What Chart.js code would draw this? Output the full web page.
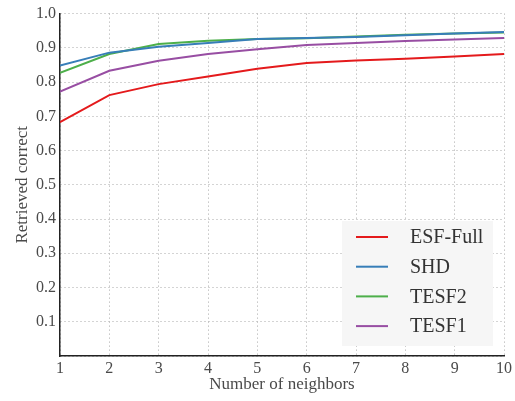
<!DOCTYPE html>
<html>
<head>
<meta charset="utf-8">
<script src="https://cdn.jsdelivr.net/npm/chart.js@4/dist/chart.umd.min.js"></script>
<style>
    html, body { margin: 0; padding: 0; background: #fff; }
    #wrap { width: 515px; height: 401px; }
</style>
</head>
<body>
<div id="wrap"><canvas id="retrievalChart" width="515" height="401"></canvas></div>
<script>
(function(){
    "use strict";

    // Number of neighbors (x axis)
    const neighbors = [1, 2, 3, 4, 5, 6, 7, 8, 9, 10];

    // Retrieved correct, one list per method
    const esfFull = [0.683, 0.762, 0.794, 0.816, 0.839, 0.856, 0.863, 0.868, 0.875, 0.882];
    const shd     = [0.848, 0.886, 0.903, 0.914, 0.926, 0.929, 0.932, 0.937, 0.942, 0.946];
    const tesf2   = [0.827, 0.882, 0.911, 0.921, 0.926, 0.928, 0.933, 0.938, 0.942, 0.945];
    const tesf1   = [0.772, 0.833, 0.862, 0.882, 0.896, 0.908, 0.914, 0.920, 0.924, 0.929];

    const seriesNames = ['ESF-Full', 'SHD', 'TESF2', 'TESF1'];
    const seriesColors = ['#e41a1c', '#377eb8', '#4daf4a', '#984ea3'];

    const fontFamily = '"Liberation Serif", "DejaVu Serif", serif';
    const textColor = '#4a4a4a';

    function toPoints(values) {
        return values.map((v, i) => ({ x: neighbors[i], y: v }));
    }

    /**
     * Legend box drawn inside the plot, bottom right, like the matplotlib one
    */
    const boxLegend = {
        id: 'boxLegend',
        afterDatasetsDraw(chart) {
            const ctx = chart.ctx;
            const area = chart.chartArea;
            const w = 151, h = 125;
            const x0 = area.right - 11 - w;
            const y0 = area.bottom - 10 - h;
            ctx.save();
            ctx.fillStyle = '#f6f6f6';
            ctx.fillRect(x0, y0, w, h);
            ctx.font = '20px ' + fontFamily;
            ctx.textBaseline = 'middle';
            chart.data.datasets.forEach((ds, i) => {
                const y = y0 + 16 + i * 29.7;
                ctx.strokeStyle = ds.borderColor;
                ctx.lineWidth = 2;
                ctx.beginPath();
                ctx.moveTo(x0 + 14, y);
                ctx.lineTo(x0 + 46, y);
                ctx.stroke();
                ctx.fillStyle = '#333';
                ctx.fillText(ds.label, x0 + 68, y + 1);
            });
            ctx.restore();
        }
    };

    function createChart() {
        const ctx = document.getElementById('retrievalChart').getContext('2d');
        const allSeries = [esfFull, shd, tesf2, tesf1];

        new Chart(ctx, {
            type: 'line',
            data: {
                datasets: allSeries.map((values, i) => ({
                    label: seriesNames[i],
                    data: toPoints(values),
                    borderColor: seriesColors[i],
                    backgroundColor: seriesColors[i],
                    borderWidth: 2,
                    pointRadius: 0,
                    tension: 0,
                    fill: false
                }))
            },
            options: {
                responsive: false,
                animation: false,
                layout: { padding: { top: 13, right: 10, left: 0, bottom: 0 } },
                plugins: {
                    legend: { display: false },
                    tooltip: { enabled: false }
                },
                scales: {
                    x: {
                        type: 'linear',
                        min: 1,
                        max: 10,
                        afterFit: (scale) => { scale.height = 45; },
                        afterBuildTicks: (scale) => {
                            scale.ticks = neighbors.map(v => ({ value: v }));
                        },
                        ticks: {
                            color: textColor,
                            padding: 3,
                            maxRotation: 0,
                            font: { family: fontFamily, size: 16 },
                            callback: (v) => String(v)
                        },
                        grid: { color: '#a8a8a8', lineWidth: 1, drawTicks: false },
                        border: { color: '#222', width: 1.5, dash: [1, 3] },
                        title: {
                            display: true,
                            text: 'Number of neighbors',
                            color: textColor,
                            font: { family: fontFamily, size: 17 },
                            padding: { top: 0, bottom: 6 }
                        }
                    },
                    y: {
                        min: 0,
                        max: 1,
                        afterFit: (scale) => { scale.width = 60; },
                        ticks: {
                            stepSize: 0.1,
                            color: textColor,
                            padding: 4,
                            font: { family: fontFamily, size: 16 },
                            callback: (v) => v === 0 ? '' : v.toFixed(1)
                        },
                        grid: { color: '#a8a8a8', lineWidth: 1, drawTicks: false },
                        border: { color: '#222', width: 1.5, dash: [1, 3] },
                        title: {
                            display: true,
                            text: 'Retrieved correct',
                            color: textColor,
                            font: { family: fontFamily, size: 17 },
                            padding: { top: 12, bottom: 0 }
                        }
                    }
                }
            },
            plugins: [boxLegend]
        });
    }

    createChart();
})();
</script>
</body>
</html>
